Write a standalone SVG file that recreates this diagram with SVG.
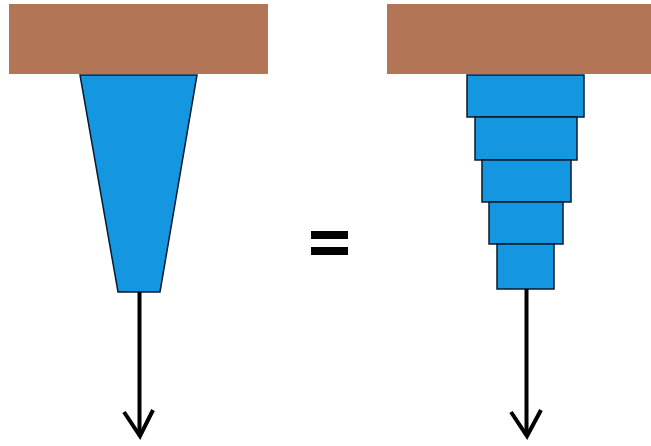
<svg xmlns="http://www.w3.org/2000/svg" width="651" height="446" viewBox="0 0 651 446">
<style>
.wall{fill:#b27555;stroke:none}
.bit{fill:#1497e0;stroke:#0a1a2a;stroke-width:1.5}
.ln{fill:none;stroke:#000;stroke-width:4;stroke-linecap:butt;stroke-linejoin:miter}
.eq{fill:#000}
</style>
<rect width="651" height="446" fill="#fff"/>
<g id="left-wall"><rect class="wall" x="9" y="4" width="259" height="70"/></g>
<g id="left-bit"><polygon class="bit" points="80,75 197,75 160,292 118,292"/></g>
<g id="equals"><rect class="eq" x="311" y="231" width="37" height="8"/><rect class="eq" x="311" y="247" width="37" height="8"/></g>
<g id="right-wall"><rect class="wall" x="387" y="4" width="264" height="70"/></g>
<g id="right-bit">
<rect class="bit" x="467" y="75" width="117" height="42"/>
<rect class="bit" x="475" y="117" width="102" height="43"/>
<rect class="bit" x="482" y="160" width="89" height="42"/>
<rect class="bit" x="489" y="202" width="74" height="42"/>
<rect class="bit" x="497" y="244" width="57" height="45"/>
</g>
<g id="connectors">
<path class="ln" d="M139.5,292 V436"/>
<path class="ln" d="M124,412 L140,436 L153,410"/>
<path class="ln" d="M526.5,289 V436"/>
<path class="ln" d="M511,412 L527,436 L541,410"/>
</g>
</svg>
